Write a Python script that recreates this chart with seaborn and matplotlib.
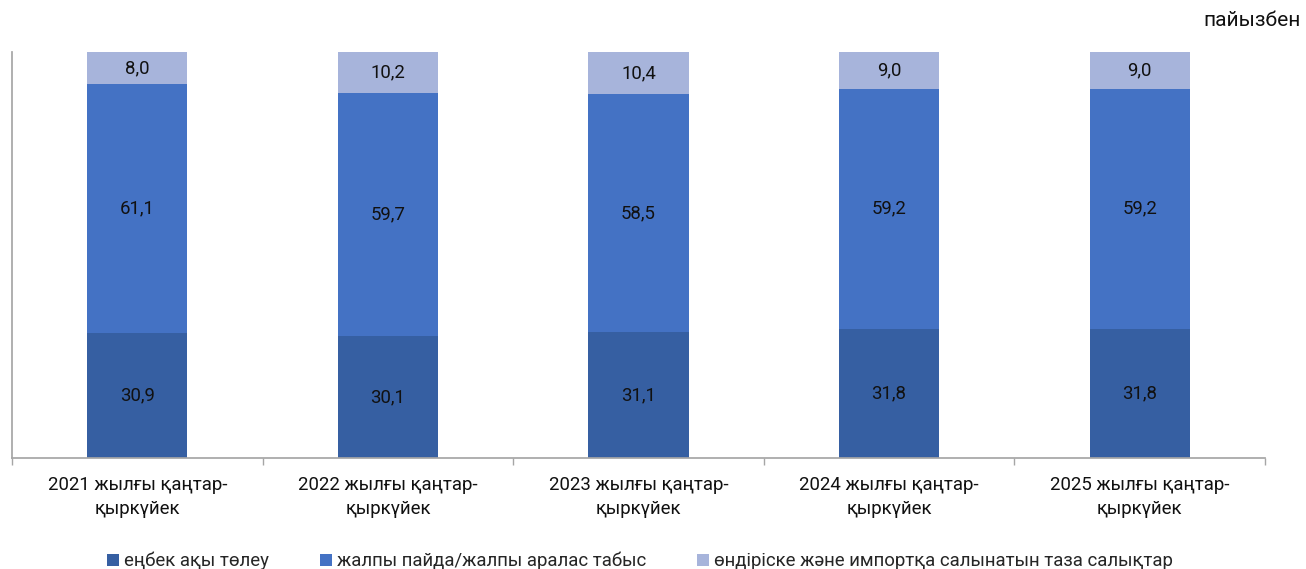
import matplotlib
matplotlib.use("Agg")
import matplotlib.pyplot as plt
import pandas as pd
import seaborn as sns
from matplotlib.patches import Patch

sns.set_theme(style="white")
plt.rcParams["font.family"] = ["Roboto", "DejaVu Sans"]

periods = [
    "2021 жылғы қаңтар-\nқыркүйек",
    "2022 жылғы қаңтар-\nқыркүйек",
    "2023 жылғы қаңтар-\nқыркүйек",
    "2024 жылғы қаңтар-\nқыркүйек",
    "2025 жылғы қаңтар-\nқыркүйек",
]
wages = [30.9, 30.1, 31.1, 31.8, 31.8]
profit = [61.1, 59.7, 58.5, 59.2, 59.2]
taxes = [8.0, 10.2, 10.4, 9.0, 9.0]

series_names = [
    "еңбек ақы төлеу",
    "жалпы пайда/жалпы аралас табыс",
    "өндіріске және импортқа салынатын таза салықтар",
]
colors = ["#365FA2", "#4472C4", "#A7B4DB"]

df = pd.DataFrame({"period": periods, "wages": wages, "profit": profit, "taxes": taxes})
df["lvl1"] = df["wages"]
df["lvl2"] = df["wages"] + df["profit"]
df["lvl3"] = df["lvl2"] + df["taxes"]

fig = plt.figure(figsize=(13.06, 5.69), dpi=100)
ax = fig.add_axes([12 / 1306, 111 / 569, 1253 / 1306, 406 / 569])

# stacked bars: draw cumulative totals from the top level down
for col, color in zip(["lvl3", "lvl2", "lvl1"], colors[::-1]):
    sns.barplot(data=df, x="period", y=col, color=color, width=0.4,
                saturation=1, ax=ax, edgecolor="none")

fs = 13.4
for i in range(len(periods)):
    bottom = 0
    for val in (wages[i], profit[i], taxes[i]):
        ax.text(i, bottom + val / 2, f"{val:.1f}".replace(".", ","),
                ha="center", va="center", fontsize=fs, color="#111111")
        bottom += val

ax.set_ylim(0, 100)
ax.set_xlim(-0.5, len(periods) - 0.5)
ax.set_xlabel("")
ax.set_ylabel("")
ax.set_yticks([])
ax.set_xticks(range(len(periods)))
ax.set_xticklabels(periods, fontsize=fs, color="#111111", linespacing=1.4)
ax.set_xticks([x - 0.5 for x in range(len(periods) + 1)], minor=True)
ax.tick_params(axis="x", which="major", length=0, pad=13)
ax.tick_params(axis="x", which="minor", length=5, color="#A6A6A6", width=1, bottom=True)

for side in ["top", "right"]:
    ax.spines[side].set_visible(False)
ax.spines["left"].set_color("#A6A6A6")
ax.spines["bottom"].set_color("#A6A6A6")

fig.text(1301 / 1306, 1 - 21 / 569, "пайызбен", ha="right", va="center",
         fontsize=15, color="#111111")

handles = [Patch(facecolor=c, edgecolor="none") for c in colors]
fig.legend(handles, series_names, loc="center", bbox_to_anchor=(640 / 1306, 1 - 561 / 569),
           ncol=3, frameon=False, fontsize=fs, handlelength=0.65, handleheight=0.65,
           handletextpad=0.25, columnspacing=2.75)

fig.savefig("out.png", dpi=100)
